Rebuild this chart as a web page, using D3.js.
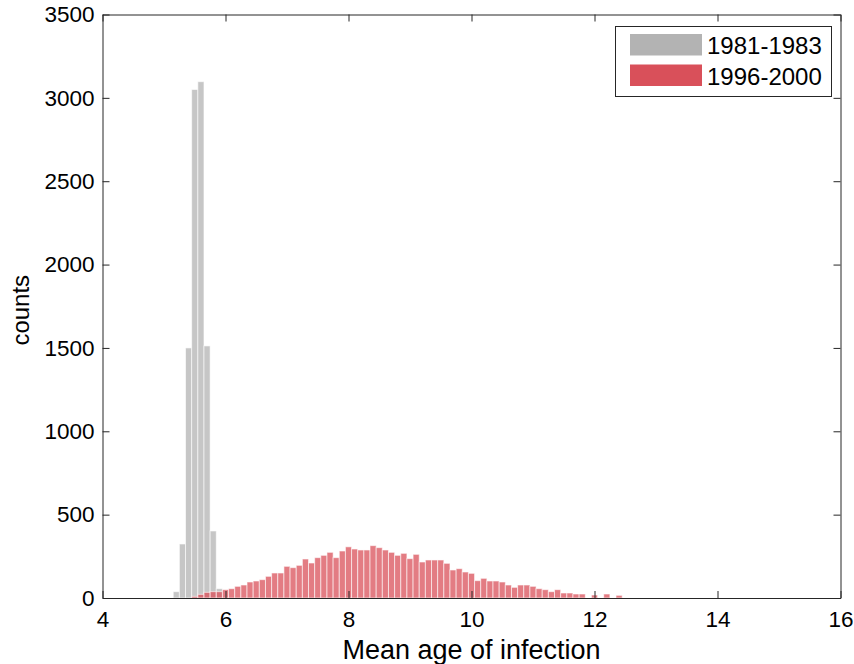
<!DOCTYPE html>
<html>
<head>
<meta charset="utf-8">
<script src="https://cdn.jsdelivr.net/npm/d3@7"></script>
<style>
  html, body { margin: 0; padding: 0; background: #fff; }
  svg { display: block; font-family: "Liberation Sans", Arial, sans-serif; }
</style>
</head>
<body>
<svg id="chart" width="854" height="664"></svg>
<script>
// ---- data (bin width 0.1) ----
const seriesNames = ["1981-1983", "1996-2000"];
const binWidth = 0.1;

const grayCenters = [5.2, 5.3, 5.4, 5.5, 5.6, 5.7, 5.8, 5.9];
const grayCounts  = [38, 324, 1500, 3050, 3097, 1512, 402, 56];

const redCenters = [
  5.5, 5.6, 5.7, 5.8, 5.9, 6.0, 6.1, 6.2, 6.3, 6.4,
  6.5, 6.6, 6.7, 6.8, 6.9, 7.0, 7.1, 7.2, 7.3, 7.4,
  7.5, 7.6, 7.7, 7.8, 7.9, 8.0, 8.1, 8.2, 8.3, 8.4,
  8.5, 8.6, 8.7, 8.8, 8.9, 9.0, 9.1, 9.2, 9.3, 9.4,
  9.5, 9.6, 9.7, 9.8, 9.9, 10.0, 10.1, 10.2, 10.3, 10.4,
  10.5, 10.6, 10.7, 10.8, 10.9, 11.0, 11.1, 11.2, 11.3, 11.4,
  11.5, 11.6, 11.7, 11.8, 11.9, 12.0, 12.1, 12.2, 12.3, 12.4
];
const redCounts = [
  10, 22, 34, 38, 38, 50, 56, 70, 78, 96,
  102, 110, 130, 150, 150, 190, 182, 196, 234, 210,
  242, 256, 274, 242, 282, 307, 294, 288, 288, 314,
  302, 288, 274, 256, 268, 236, 262, 216, 228, 228,
  228, 208, 168, 176, 156, 148, 104, 118, 102, 102,
  96, 78, 64, 78, 78, 70, 56, 50, 38, 50,
  30, 30, 24, 24, 0, 18, 0, 24, 0, 16
];

const xTicks = [4, 6, 8, 10, 12, 14, 16];
const yTicks = [0, 500, 1000, 1500, 2000, 2500, 3000, 3500];
const xLabel = "Mean age of infection";
const yLabel = "counts";

// ---- layout ----
const svg = d3.select("#chart");
const L = 102.5, R = 840.5, T = 14.5, B = 598;
const x = d3.scaleLinear().domain([4, 16]).range([L, R]);
const y = d3.scaleLinear().domain([0, 3500]).range([B, T]);

const grayColor = "#B3B3B3";
const redColor = "#D9505A";
const axisColor = "#262626";

function drawBars(centers, counts, color) {
  const data = centers.map((c, i) => ({c, v: counts[i]})).filter(d => d.v > 0);
  svg.append("g").selectAll("rect").data(data).join("rect")
    .attr("x", d => x(d.c - binWidth / 2))
    .attr("width", d => x(d.c + binWidth / 2) - x(d.c - binWidth / 2))
    .attr("y", d => y(d.v))
    .attr("height", d => y(0) - y(d.v))
    .attr("fill", color)
    .attr("fill-opacity", 0.75)
    .attr("stroke", "#fff")
    .attr("stroke-opacity", 0.6)
    .attr("stroke-width", 1);
}
drawBars(grayCenters, grayCounts, grayColor);
drawBars(redCenters, redCounts, redColor);

// ---- axes with inward ticks on all four sides ----
const tickLen = 7;
const fontTick = 22.5;

const gB = svg.append("g").attr("transform", `translate(0,${B})`)
  .call(d3.axisBottom(x).tickValues(xTicks).tickSizeInner(-tickLen).tickSizeOuter(0).tickPadding(13).tickFormat(d3.format("d")));
const gT = svg.append("g").attr("transform", `translate(0,${T})`)
  .call(d3.axisTop(x).tickValues(xTicks).tickSizeInner(-tickLen).tickSizeOuter(0).tickFormat(""));
const gL = svg.append("g").attr("transform", `translate(${L},0)`)
  .call(d3.axisLeft(y).tickValues(yTicks).tickSizeInner(-tickLen).tickSizeOuter(0).tickPadding(8).tickFormat(d3.format("d")));
const gR = svg.append("g").attr("transform", `translate(${R},0)`)
  .call(d3.axisRight(y).tickValues(yTicks).tickSizeInner(-tickLen).tickSizeOuter(0).tickFormat(""));

[gB, gT, gL, gR].forEach(g => {
  g.selectAll(".domain").attr("stroke", axisColor).attr("stroke-width", 1);
  g.selectAll(".tick line").attr("stroke", axisColor).attr("stroke-width", 1);
  g.selectAll(".tick text").attr("fill", "#000").attr("font-size", fontTick)
    .attr("font-family", "'Liberation Sans', Arial, sans-serif");
});
gL.selectAll(".tick text").attr("x", -8);

// ---- axis labels ----
svg.append("text")
  .attr("x", (L + R) / 2).attr("y", 659)
  .attr("text-anchor", "middle").attr("font-size", 27).attr("fill", "#000")
  .text(xLabel);
svg.append("text")
  .attr("transform", `translate(29,${(T + B) / 2 + 4}) rotate(-90)`)
  .attr("text-anchor", "middle").attr("font-size", 24).attr("fill", "#000")
  .text(yLabel);

// ---- legend ----
const leg = svg.append("g");
leg.append("rect")
  .attr("x", 615.5).attr("y", 26.5).attr("width", 216).attr("height", 70)
  .attr("fill", "#fff").attr("stroke", axisColor).attr("stroke-width", 1);
const legColors = [grayColor, redColor];
seriesNames.forEach((name, i) => {
  const yy = 34 + i * 30.5;
  leg.append("rect").attr("x", 630).attr("y", yy).attr("width", 72).attr("height", 21.5)
    .attr("fill", legColors[i]);
  leg.append("text").attr("x", 707).attr("y", yy + 20).attr("font-size", 24).attr("fill", "#000")
    .text(name);
});
</script>
</body>
</html>
